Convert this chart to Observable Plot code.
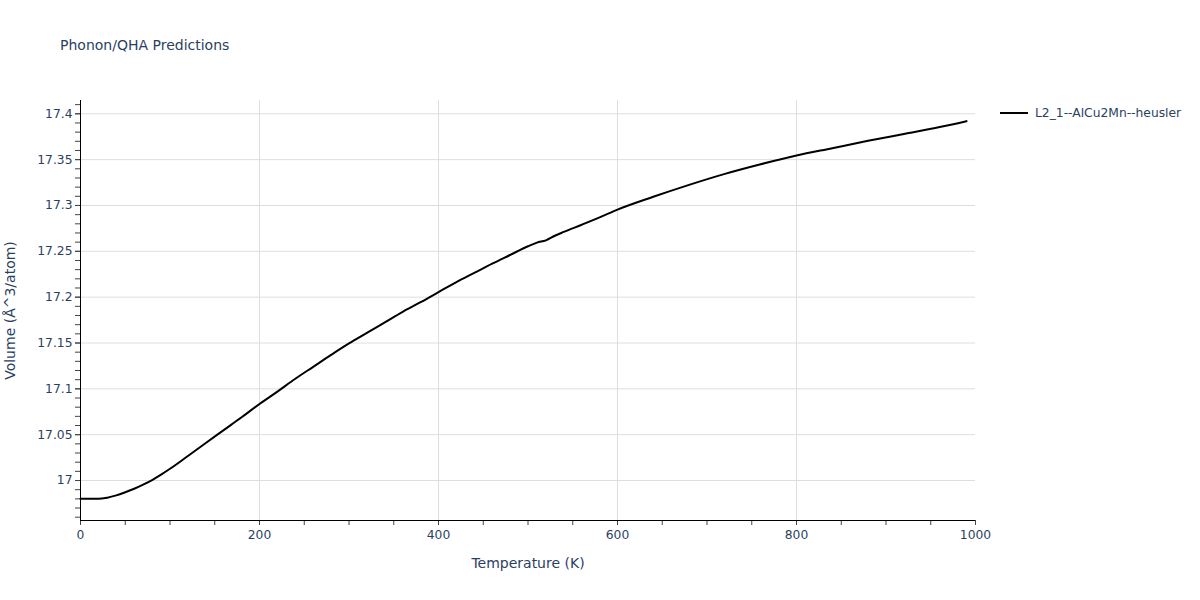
<!DOCTYPE html>
<html>
<head>
<meta charset="utf-8">
<script src="https://cdn.jsdelivr.net/npm/d3@7"></script>
<script src="https://cdn.jsdelivr.net/npm/@observablehq/plot@0.6"></script>
<style>
  body { margin: 0; background: #fff; }
  #wrap { position: relative; width: 1200px; height: 600px; font-family: "DejaVu Sans", Verdana, sans-serif; color: #2a3f5f; }
  #title { position: absolute; left: 60px; top: 37px; font-size: 14px; white-space: nowrap; }
  #legend { position: absolute; left: 1000px; top: 106px; font-size: 12.3px; display: flex; align-items: center; white-space: nowrap; }
  #legend .sw { width: 28px; height: 2px; background: #000; margin-right: 7px; }
</style>
</head>
<body>
<div id="wrap">
  <div id="chart"></div>
  <div id="title">Phonon/QHA Predictions</div>
  <div id="legend"><span class="sw"></span><span id="legendLabel"></span></div>
</div>
<script>
const seriesName = "L2_1--AlCu2Mn--heusler";
const temperature = [0, 10, 20, 30, 40, 50, 60, 70, 80, 90, 100, 120, 140, 160, 180, 200, 220, 240, 260, 280, 300, 320, 340, 360, 380, 400, 420, 440, 460, 480, 500, 510, 520, 530, 540, 560, 580, 600, 640, 680, 720, 760, 800, 840, 880, 920, 960, 990];
const volume = [16.980, 16.980, 16.980, 16.9813, 16.9838, 16.9872, 16.991, 16.9955, 17.0005, 17.0064, 17.0128, 17.0268, 17.041, 17.055, 17.069, 17.0835, 17.097, 17.111, 17.124, 17.137, 17.1495, 17.161, 17.1725, 17.184, 17.1945, 17.2055, 17.2165, 17.2265, 17.2365, 17.246, 17.2555, 17.2595, 17.262, 17.267, 17.2712, 17.279, 17.287, 17.2955, 17.3095, 17.3225, 17.3345, 17.345, 17.3545, 17.3625, 17.3705, 17.378, 17.3855, 17.392];
const xDomain = [0, 1000];
const yDomain = [16.9564, 17.4145];
const xMajorTicks = [0, 200, 400, 600, 800, 1000];
const xMinorTicks = d3.range(0, 1001, 50);
const yMajorTicks = [17, 17.05, 17.1, 17.15, 17.2, 17.25, 17.3, 17.35, 17.4];
const yMinorTicks = d3.range(16.96, 17.411, 0.01).map(v => +v.toFixed(2));
const xLabel = "Temperature (K)";
const yLabel = "Volume (Å^3/atom)";

document.getElementById("legendLabel").textContent = seriesName;

const data = temperature.map((t, i) => ({t, v: volume[i]}));
const textColor = "#2a3f5f";
const fmt = d => String(+d.toFixed(2));

const chart = Plot.plot({
  width: 1200,
  height: 600,
  marginLeft: 80,
  marginRight: 225,
  marginTop: 100,
  marginBottom: 80,
  style: { fontFamily: '"DejaVu Sans", Verdana, sans-serif', fontSize: "12px", color: textColor, background: "#fff" },
  x: { domain: xDomain },
  y: { domain: yDomain },
  marks: [
    Plot.ruleY(yMajorTicks, { stroke: "#dedede", strokeWidth: 1 }),
    Plot.ruleX(xMajorTicks.filter(d => d > xDomain[0] && d < xDomain[1]), { stroke: "#dedede", strokeWidth: 1 }),
    Plot.axisY({ ticks: yMinorTicks, tickSize: 5, tickFormat: () => "", stroke: "#444", label: null }),
    Plot.axisY({ ticks: yMajorTicks, tickSize: 5, tickPadding: 3, tickFormat: fmt, stroke: "#444", fill: textColor, fontSize: 12.3, label: null }),
    Plot.axisX({ ticks: xMinorTicks, tickSize: 5, tickFormat: () => "", stroke: "#444", label: null }),
    Plot.axisX({ ticks: xMajorTicks, tickSize: 5, tickPadding: 5, tickFormat: d => String(d), stroke: "#444", fill: textColor, fontSize: 12.3, label: null }),
    Plot.ruleX([xDomain[0]], { stroke: "#000", strokeWidth: 1 }),
    Plot.ruleY([yDomain[0]], { stroke: "#000", strokeWidth: 1 }),
    Plot.line(data, { x: "t", y: "v", stroke: "#000", strokeWidth: 2, curve: "monotone-x" }),
    Plot.text([xLabel], { frameAnchor: "bottom", dy: 47, fill: textColor, fontSize: 14 }),
    Plot.text([yLabel], { frameAnchor: "left", dx: -70, rotate: -90, textAnchor: "middle", fill: textColor, fontSize: 14 })
  ]
});
document.getElementById("chart").appendChild(chart);
</script>
</body>
</html>
